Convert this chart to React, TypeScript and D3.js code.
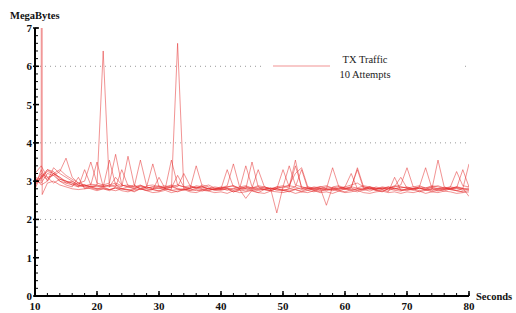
import React from 'react'
import * as d3 from 'd3'

// seconds 10..80, one sample per second
const SECONDS = d3.range(10, 81)
// attempt 1 logged a burst just after second 11
const SECONDS_ATTEMPT1 = [10, 11, 11.08, 11.16, ...d3.range(12, 81)]
const Y_TICKS = [0, 1, 2, 3, 4, 5, 6, 7]
const X_TICKS = [10, 20, 30, 40, 50, 60, 70, 80]
const GRID = [2, 4, 6]

const attempt1 = [
  3.05, 3.0, 60, 2.65, 2.95, 3.0, 2.9, 2.85, 2.8, 2.78, 2.8,
  2.82, 2.78, 2.8, 2.75, 2.85, 2.8, 2.78, 2.72, 2.8, 2.76,
  2.78, 2.74, 2.8, 2.76, 2.72, 2.78, 2.8, 2.75, 2.78, 2.82,
  2.75, 2.78, 2.8, 2.72, 2.76, 2.8, 2.74, 2.7, 2.78, 2.75,
  2.8, 2.76, 2.72, 2.78, 2.74, 2.8, 2.76, 2.72, 2.8, 2.78,
  2.74, 2.8, 2.76, 2.72, 2.78, 2.82, 2.76, 2.72, 2.8, 2.76,
  2.74, 2.8, 2.78, 2.72, 2.76, 2.8, 2.74, 2.78, 2.8, 2.75, 2.72
]
const attempt2 = [
  2.9, 3.1, 3.25, 3.2, 3.1, 3.0, 2.95, 2.85, 2.9, 2.85,
  2.9, 6.4, 2.85, 2.9, 2.8, 2.85, 2.9, 2.78, 2.85, 2.8,
  2.82, 2.78, 2.85, 2.8, 2.76, 2.82, 2.85, 2.8, 2.76, 2.8,
  2.78, 2.82, 2.76, 2.8, 2.85, 2.78, 2.75, 2.8, 2.82, 2.76,
  2.75, 2.8, 2.85, 2.78, 2.82, 2.76, 2.8, 2.75, 2.82, 2.8,
  2.78, 2.82, 2.76, 2.8, 2.85, 2.78, 2.74, 2.8, 2.82, 2.76,
  2.8, 2.76, 2.82, 2.78, 2.75, 2.8, 2.84, 2.78, 2.76, 2.8, 2.78
]
const attempt3 = [
  3.0, 2.95, 3.2, 3.15, 3.25, 3.6, 3.1, 2.95, 2.9, 2.85,
  2.8, 2.85, 2.78, 2.82, 2.8, 2.76, 2.8, 2.85, 2.8, 2.78,
  2.75, 2.8, 2.78, 6.6, 2.8, 2.76, 2.82, 2.78, 2.75, 2.8,
  2.82, 2.76, 2.8, 2.78, 2.74, 2.8, 2.85, 2.78, 2.76, 2.8,
  2.78, 2.74, 2.8, 2.82, 2.76, 2.72, 2.8, 2.78, 2.75, 2.8,
  2.82, 2.76, 2.8, 2.78, 2.74, 2.8, 2.82, 2.76, 2.8, 2.78,
  2.75, 2.8, 2.82, 2.76, 2.8, 2.78, 2.74, 2.8, 2.82, 2.76, 2.8
]
const attempt4 = [
  3.2, 3.4, 3.1, 3.15, 3.0, 2.95, 2.9, 2.85, 3.3, 2.9,
  3.5, 2.85, 3.55, 2.9, 2.85, 3.65, 2.9, 2.8, 2.85, 3.45,
  2.85, 2.8, 3.55, 2.9, 2.85, 2.8, 3.4, 2.85, 2.8, 2.78,
  2.8, 3.3, 2.85, 2.8, 3.4, 2.85, 2.8, 2.78, 2.82, 2.8,
  3.3, 2.85, 3.55, 2.8, 2.85, 2.78, 2.82, 2.8, 3.35, 2.85,
  2.8, 2.82, 3.35, 2.85, 2.8, 2.78, 2.82, 2.8, 2.85, 2.9,
  3.35, 2.85, 2.8, 2.82, 2.78, 3.55, 2.85, 2.8, 2.82, 3.3, 2.85
]
const attempt5 = [
  2.85, 3.3, 3.0, 3.2, 3.1, 2.95, 3.0, 2.9, 2.85, 2.88,
  2.85, 2.9, 2.95, 3.7, 2.9, 2.85, 2.8, 2.88, 2.82, 2.85,
  2.8, 2.85, 2.9, 2.85, 3.2, 2.88, 2.82, 2.85, 2.8, 2.78,
  2.82, 2.88, 3.45, 2.85, 2.8, 2.82, 2.78, 2.85, 2.8, 2.17,
  2.85, 3.4, 2.9, 2.85, 2.8, 2.82, 2.86, 2.8, 2.78, 2.82,
  2.85, 3.2, 2.8, 2.82, 2.78, 2.85, 2.8, 2.82, 2.86, 3.1,
  2.82, 2.8, 2.85, 3.35, 2.82, 2.8, 2.78, 2.85, 2.82, 2.8, 3.45
]
const attempt6 = [
  2.95, 3.1, 3.3, 3.25, 3.05, 3.0, 2.9, 2.95, 2.88, 2.92,
  2.9, 2.85, 2.9, 2.95, 2.88, 2.9, 2.85, 3.55, 2.88, 2.9,
  2.85, 2.88, 2.82, 3.15, 2.85, 2.8, 2.88, 2.85, 2.9, 2.82,
  2.8, 2.85, 2.88, 2.82, 2.8, 3.5, 2.85, 2.82, 2.78, 2.85,
  2.82, 2.88, 2.85, 3.3, 2.8, 2.85, 2.82, 2.37, 2.85, 2.88,
  2.82, 2.85, 3.3, 2.8, 2.85, 2.82, 2.78, 2.85, 2.8, 2.82,
  2.85, 2.8, 2.82, 2.78, 2.85, 2.88, 2.82, 2.8, 2.85, 2.82, 2.6
]
const attempt7 = [
  3.1, 2.9, 3.0, 3.35, 3.2, 3.1, 3.0, 2.9, 2.85, 2.8,
  2.75, 2.8, 2.78, 2.82, 2.75, 2.72, 2.78, 2.8, 2.75, 2.7,
  2.72, 2.76, 2.7, 2.74, 2.78, 2.72, 2.7, 2.76, 2.74, 2.7,
  2.72, 2.68, 2.75, 2.7, 2.72, 2.76, 2.7, 2.68, 2.74, 2.72,
  2.7, 2.74, 2.68, 2.72, 2.7, 2.75, 2.7, 2.72, 2.68, 2.74,
  2.7, 2.72, 2.76, 2.7, 2.68, 2.72, 2.74, 2.7, 2.72, 2.68,
  2.72, 2.7, 2.74, 2.68, 2.72, 2.7, 2.74, 2.72, 2.68, 2.7, 2.72
]
const attempt8 = [
  2.8, 3.15, 3.05, 3.2, 3.3, 3.15, 3.05, 2.95, 3.0, 3.5,
  2.95, 2.9, 2.85, 3.1, 2.9, 2.85, 2.82, 2.88, 2.85, 2.8,
  2.85, 2.82, 2.88, 2.8, 2.78, 2.85, 2.82, 2.9, 2.85, 2.8,
  2.85, 2.82, 2.8, 2.85, 2.88, 2.82, 3.3, 2.85, 2.8, 2.82,
  2.85, 2.9, 3.2, 3.35, 2.85, 2.82, 2.8, 2.85, 2.82, 2.78,
  2.85, 2.9, 2.95, 2.85, 2.82, 2.8, 2.85, 2.82, 2.88, 2.85,
  2.82, 2.85, 2.88, 2.82, 2.85, 2.8, 2.82, 2.85, 3.25, 2.88, 2.85
]
const attempt9 = [
  3.1, 3.05, 3.3, 3.2, 3.0, 2.9, 2.85, 3.1, 2.8, 2.85,
  2.8, 2.82, 2.78, 2.75, 2.8, 2.78, 2.74, 2.8, 2.76, 2.78,
  3.1, 2.8, 2.76, 2.78, 2.8, 2.75, 2.78, 2.74, 2.8, 2.78,
  2.76, 2.8, 2.72, 2.78, 2.55, 2.76, 2.8, 2.78, 2.75, 2.8,
  2.76, 2.8, 2.78, 2.72, 2.76, 2.8, 2.75, 2.78, 2.8, 2.76,
  2.72, 2.78, 2.8, 2.76, 2.82, 2.75, 2.78, 2.72, 3.1, 2.76,
  2.78, 2.8, 2.75, 2.78, 2.72, 2.76, 2.8, 2.78, 2.75, 2.72, 2.76
]
const attempt10 = [
  2.95, 3.2, 3.1, 2.95, 3.05, 3.0, 2.95, 2.88, 2.9, 2.85,
  2.88, 2.85, 2.9, 2.85, 3.3, 2.88, 2.85, 2.9, 2.82, 2.85,
  2.88, 2.82, 2.85, 2.9, 2.85, 2.88, 2.82, 2.85, 2.8, 2.85,
  2.82, 2.85, 2.88, 2.8, 2.85, 2.82, 2.88, 2.85, 2.8, 2.85,
  2.88, 2.82, 3.4, 2.85, 2.82, 2.8, 2.85, 2.88, 2.82, 2.85,
  2.8, 2.85, 2.82, 2.88, 2.85, 2.8, 2.82, 2.85, 2.8, 2.85,
  2.82, 2.8, 2.85, 2.82, 2.88, 2.85, 2.8, 2.82, 2.85, 2.8, 2.82
]
const ATTEMPTS = [attempt1, attempt2, attempt3, attempt4, attempt5,
  attempt6, attempt7, attempt8, attempt9, attempt10]
const ATTEMPT_TIMES = ATTEMPTS.map((a, i) => (i === 0 ? SECONDS_ATTEMPT1 : SECONDS))

const WIDTH = 516
const HEIGHT = 313
const LINE_COLOR = 'rgba(228, 40, 40, 0.5)'
const FONT = '"Liberation Serif", "DejaVu Serif", serif'

export default function App() {
  const x = d3.scaleLinear().domain([10, 80]).range([35, 469])
  const y = d3.scaleLinear().domain([0, 7]).range([296, 28])

  const makeLine = (times: number[]) => d3.line<number>()
    .x((d, i) => x(times[i]))
    .y(d => y(d))

  const yMinor = d3.range(0, 7.001, 0.2)
  const xMinor = d3.range(10, 80.001, 2)

  return (
    <svg width={WIDTH} height={HEIGHT}
      style={{ position: 'absolute', left: 0, top: 0, background: '#fff' }}>
      <defs>
        <clipPath id="plot">
          <rect x={x(10)} y={y(7)} width={x(80) - x(10)} height={y(0) - y(7)} />
        </clipPath>
      </defs>

      {GRID.map(g => (
        <line key={g} x1={x(10)} x2={x(80)} y1={y(g)} y2={y(g)}
          stroke="#999" strokeWidth={1} strokeDasharray="1,4" />
      ))}

      {/* legend box hides the grid behind it */}
      <rect x={262} y={48} width={202} height={38} fill="#fff" />
      <line x1={273} x2={330} y1={66} y2={66} stroke={LINE_COLOR} strokeWidth={1.2} />
      <text x={365} y={63} textAnchor="middle" fontFamily={FONT} fontSize={10.5} fill="#222">TX Traffic</text>
      <text x={365} y={78} textAnchor="middle" fontFamily={FONT} fontSize={10.5} fill="#222">10 Attempts</text>

      <g clipPath="url(#plot)">
        {ATTEMPTS.map((a, i) => (
          <path key={i} d={makeLine(ATTEMPT_TIMES[i])(a) || ''} fill="none"
            stroke={LINE_COLOR} strokeWidth={1} />
        ))}
      </g>

      {/* y axis */}
      <line x1={x(10)} x2={x(10)} y1={y(0) + 1} y2={y(7)} stroke="#000" strokeWidth={2} />
      {yMinor.map(v => (
        <line key={v} x1={x(10)} x2={x(10) + 3} y1={y(v)} y2={y(v)} stroke="#000" strokeWidth={1} />
      ))}
      {Y_TICKS.map(v => (
        <g key={v}>
          <line x1={x(10) - 2} x2={x(10) + 4} y1={y(v)} y2={y(v)} stroke="#000" strokeWidth={1.5} />
          <text x={x(10) - 3} y={y(v) + 4} textAnchor="end" fontFamily={FONT}
            fontWeight="bold" fontSize={11} fill="#111">{v}</text>
        </g>
      ))}
      <text x={10} y={19} fontFamily={FONT} fontWeight="bold" fontSize={10.5} fill="#111">MegaBytes</text>

      {/* x axis */}
      <line x1={x(10) - 1} x2={x(80)} y1={y(0)} y2={y(0)} stroke="#000" strokeWidth={2} />
      {xMinor.map(v => (
        <line key={v} x1={x(v)} x2={x(v)} y1={y(0)} y2={y(0) - 3} stroke="#000" strokeWidth={1} />
      ))}
      {X_TICKS.map(v => (
        <g key={v}>
          <line x1={x(v)} x2={x(v)} y1={y(0)} y2={y(0) - 5} stroke="#000" strokeWidth={1.5} />
          <text x={x(v)} y={310} textAnchor="middle" fontFamily={FONT}
            fontWeight="bold" fontSize={11} fill="#111">{v}</text>
        </g>
      ))}
      <text x={476} y={300} fontFamily={FONT} fontWeight="bold" fontSize={10.5} fill="#111">Seconds</text>
    </svg>
  )
}
